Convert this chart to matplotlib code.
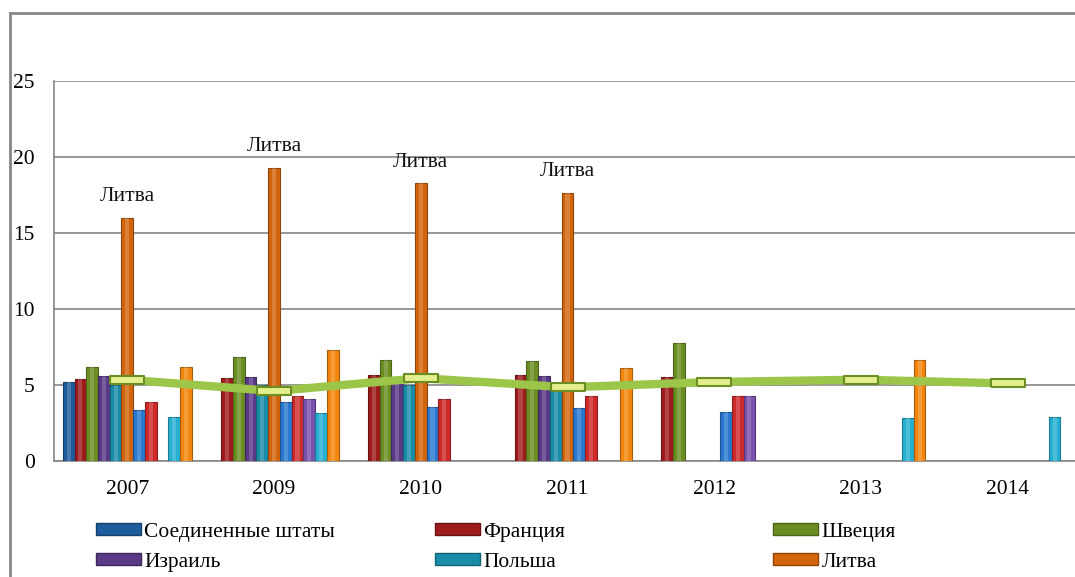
import numpy as np
import matplotlib.pyplot as plt
from matplotlib.lines import Line2D
from matplotlib.patches import Patch

# ===========================
# Data
# ===========================

nan = np.nan

years = ["2007", "2009", "2010", "2011", "2012", "2013", "2014"]

# series drawn as bars (11 slots per year)
bar_names = [
    "Соединенные штаты", "Франция", "Швеция", "Израиль", "Польша", "Литва",
    "Соединенные штаты 2", "Франция 2", "Израиль 2", "Польша 2", "Литва 2",
]

us = [5.2, nan, nan, nan, nan, nan, nan]
fr = [5.4, 5.45, 5.65, 5.65, 5.5, nan, nan]
sw = [6.2, 6.85, 6.65, 6.55, 7.75, nan, nan]
il = [5.6, 5.5, 5.55, 5.6, nan, nan, nan]
pl = [5.0, 5.0, 5.0, 4.9, nan, nan, nan]
lt = [16.0, 19.3, 18.3, 17.65, nan, nan, nan]
us2 = [3.35, 3.85, 3.55, 3.5, 3.2, nan, nan]
fr2 = [3.85, 4.25, 4.1, 4.3, 4.3, nan, nan]
il2 = [nan, 4.1, nan, nan, 4.25, nan, nan]
pl2 = [2.9, 3.15, nan, nan, nan, 2.85, 2.9]
lt2 = [6.2, 7.3, nan, 6.15, nan, 6.65, nan]

# series drawn as a line
sw2 = [5.35, 4.6, 5.45, 4.85, 5.2, 5.35, 5.1]

bar_values = [us, fr, sw, il, pl, lt, us2, fr2, il2, pl2, lt2]

bar_colors = [
    "#1F5C9E", "#9E1B1B", "#6B8E23", "#5A3A86", "#1A8CA8", "#D2650C",
    "#2A78CF", "#CF2A2A", "#7A52AE", "#25B0D2", "#F2860F",
]
edge_colors = [
    "#163F6C", "#6B1212", "#4A6318", "#3D275C", "#126173", "#8F4508",
    "#1C528E", "#8E1D1D", "#543877", "#1A7A91", "#A95D0A",
]

legend_names = ["Соединенные штаты", "Франция", "Швеция", "Израиль", "Польша", "Литва"]

# ===========================
# Figure
# ===========================

plt.rcParams["font.family"] = ["Liberation Serif", "DejaVu Serif"]

fig = plt.figure(figsize=(10.75, 5.77), dpi=100)

W, H = 1075, 577
ax = fig.add_axes([54 / W, 116 / H, (1081 - 54) / W, 380 / H])

n_slots = len(bar_values)
group_w = 0.88
slot_w = group_w / n_slots
x = np.arange(len(years))

for i, vals in enumerate(bar_values):
    pos = x - group_w / 2 + (i + 0.5) * slot_w
    ax.bar(pos, vals, width=slot_w, color=bar_colors[i],
           edgecolor=edge_colors[i], linewidth=0.8, zorder=3)
    # lighter highlight strip to imitate the bevel
    ax.bar(pos, vals, width=slot_w * 0.35, color="white", alpha=0.18,
           linewidth=0, zorder=3.5)

# data labels above Lithuania bars
lt_pos = x - group_w / 2 + 5.5 * slot_w
for xp, v in zip(lt_pos, lt):
    if not np.isnan(v):
        ax.annotate("Литва", (xp, v), xytext=(0, 15), textcoords="offset points",
                    ha="center", va="center", fontsize=15.5, color="#111111")

# line series
rect_marker = [(-2, -0.5), (2, -0.5), (2, 0.5), (-2, 0.5), (-2, -0.5)]
ax.plot(x, sw2, color="#9BC64A", linewidth=6, zorder=5, solid_capstyle="butt")
ax.plot(x, sw2, linestyle="none", marker=rect_marker, markersize=25,
        markerfacecolor="#E3EE8C", markeredgecolor="#6B8E23",
        markeredgewidth=1.5, zorder=6)

ax.set_xlim(-0.5, len(years) - 0.5)
ax.set_ylim(0, 25)
ax.set_yticks([0, 5, 10, 15, 20, 25])
ax.set_xticks(x)
ax.set_xticklabels(years)

ax.yaxis.grid(True, color="#868686", linewidth=1.2, zorder=0)
ax.set_axisbelow(True)

for side in ["top", "right"]:
    ax.spines[side].set_visible(False)
for side in ["left", "bottom"]:
    ax.spines[side].set_color("#868686")
    ax.spines[side].set_linewidth(1.2)

ax.tick_params(axis="y", length=0, pad=14, labelsize=15.5)
ax.tick_params(axis="x", length=0, pad=14, labelsize=15.5)

# outer chart frame
fig.add_artist(Line2D([10 / W, 10 / W], [-0.1, 1 - 13 / H], color="#868686",
                      linewidth=2, transform=fig.transFigure))
fig.add_artist(Line2D([10 / W, 1.1], [1 - 13 / H, 1 - 13 / H], color="#868686",
                      linewidth=2, transform=fig.transFigure))

# ===========================
# Legend (three columns)
# ===========================

handles = [Patch(facecolor=bar_colors[i], edgecolor=edge_colors[i]) for i in range(6)]
col_x = [96, 435, 773]
for c in range(3):
    leg = fig.legend([handles[c], handles[c + 3]],
                     [legend_names[c], legend_names[c + 3]],
                     loc="upper left", bbox_to_anchor=(col_x[c] / W, 1 - 523 / H),
                     frameon=False, fontsize=15.5, borderpad=0, borderaxespad=0,
                     handlelength=2.1, handleheight=0.5, handletextpad=0.15,
                     labelspacing=0.5)

fig.savefig("out.png", dpi=100)
